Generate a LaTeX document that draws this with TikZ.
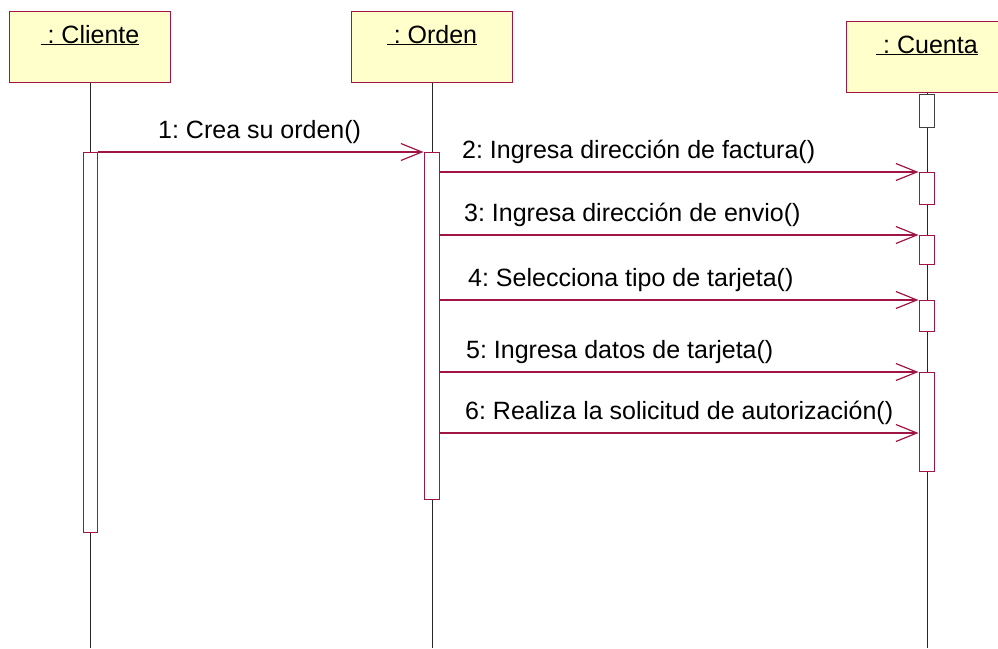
\documentclass[tikz,border=0pt]{standalone}
\usepackage{fontspec}
\setmainfont{Liberation Sans}
\frenchspacing
\usetikzlibrary{arrows.meta}
\definecolor{msgred}{RGB}{160,20,70}
\definecolor{objfill}{RGB}{255,255,204}

\begin{document}
\begin{tikzpicture}[x=1pt,y=-1pt,
    objbox/.style={draw=msgred,fill=objfill,line width=1pt,minimum width=161pt,minimum height=71pt,inner sep=0pt},
    objlabel/.style={anchor=base,font=\fontsize{25}{30}\selectfont,inner sep=0pt},
    actbox/.style={draw=msgred,fill=white,line width=1pt,minimum width=15pt,inner sep=0pt,anchor=north},
    lifeline/.style={draw=black!85,line width=1pt},
    msg/.style={draw=msgred,line width=1.2pt,-{Straight Barb[length=21pt,width=17pt,line width=1.2pt]}},
    msglabel/.style={anchor=base west,font=\fontsize{25}{30}\selectfont,inner sep=0pt}]
                \useasboundingbox (0,0) rectangle (998,648);
                \coordinate (bottom) at (0,648);
                % objects
                \node[objbox] (cliente) at (90,46.5) {};
                \node[objbox] (orden) at (432,46.5) {};
                \node[objbox] (cuenta) at (927,56.5) {};
                \node[objlabel] (clientename) at (90,43) {\underline{\ : Cliente}};
                \node[objlabel] (ordenname) at (432,43) {\underline{\ : Orden}};
                \node[objlabel] (cuentaname) at (927,53) {\underline{\ : Cuenta}};
                % lifelines
                \draw[lifeline] (cliente.south) -- (cliente.south |- bottom);
                \draw[lifeline] (orden.south) -- (orden.south |- bottom);
                \draw[lifeline] (cuenta.south) -- (cuenta.south |- bottom);
                % activations
                \node[actbox,minimum width=14pt,minimum height=380pt] (clienteact) at (90,152) {};
                \node[actbox,minimum height=347pt] (ordenact) at (431.5,152) {};
                \node[actbox,draw=black!75,minimum height=33pt] (cact0) at (926.5,94) {};
                \node[actbox,minimum height=32pt] (cact1) at (926.5,172) {};
                \node[actbox,minimum height=29pt] (cact2) at (926.5,235) {};
                \node[actbox,minimum height=31pt] (cact3) at (926.5,300) {};
                \node[actbox,minimum height=99pt] (cact4) at (926.5,372) {};
                \coordinate (m6) at ([yshift=-11pt]cact4.west);
                % messages
                \draw[msg] (clienteact.north east) -- (ordenact.north west);
                \draw[msg] (ordenact.east |- cact1.north west) -- (cact1.north west);
                \draw[msg] (ordenact.east |- cact2.north west) -- (cact2.north west);
                \draw[msg] (ordenact.east |- cact3.north west) -- (cact3.north west);
                \draw[msg] (ordenact.east |- cact4.north west) -- (cact4.north west);
                \draw[msg] (ordenact.east |- m6) -- (m6);
                \node[msglabel] (l1) at (158,138) {1: Crea su orden()};
                \node[msglabel] (l2) at (462,158) {2: Ingresa dirección de factura()};
                \node[msglabel] (l3) at (464,221) {3: Ingresa dirección de envio()};
                \node[msglabel] (l4) at (468,286) {4: Selecciona tipo de tarjeta()};
                \node[msglabel] (l5) at (466,358) {5: Ingresa datos de tarjeta()};
                \node[msglabel] (l6) at (465,419) {6: Realiza la solicitud de autorización()};
            \end{tikzpicture}
\end{document}
